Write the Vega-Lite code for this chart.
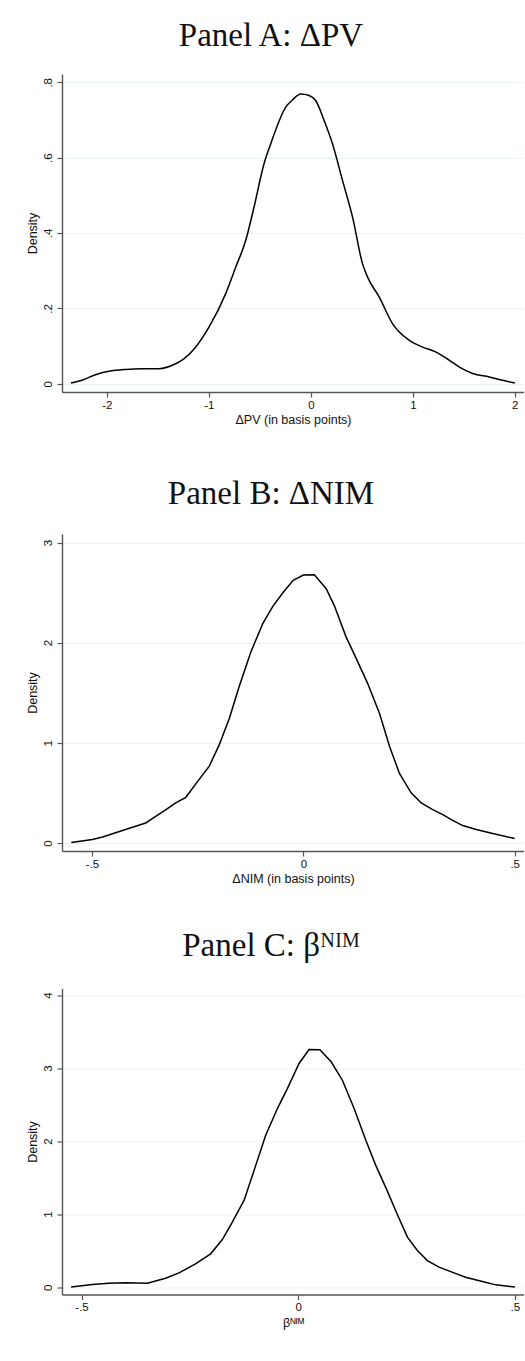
{
  "$schema": "https://vega.github.io/schema/vega-lite/v6.json",
  "background": "white",
  "padding": {"left": 26, "top": 20, "right": 0, "bottom": 5},
  "spacing": 51,
  "config": {
    "view": {"stroke": null},
    "axis": {
      "labelFont": "Liberation Sans",
      "titleFont": "Liberation Sans",
      "labelFontSize": 11.5,
      "titleFontSize": 12.5,
      "titleFontWeight": "normal",
      "labelColor": "#111",
      "titleColor": "#111",
      "domainColor": "#555",
      "domainWidth": 1.4,
      "tickColor": "#555",
      "tickWidth": 1.2,
      "tickSize": 5,
      "gridColor": "#eaf2f3",
      "gridWidth": 1
    },
    "axisX": {"grid": false, "labelPadding": 2, "titlePadding": 3, "labelFlush": false},
    "axisY": {"grid": true, "labelAngle": -90, "labelAlign": "center", "labelBaseline": "bottom", "labelPadding": 4, "titlePadding": 3},
    "title": {"font": "Liberation Serif", "fontSize": 33, "fontWeight": "normal", "color": "#111", "anchor": "middle", "frame": "group", "baseline": "alphabetic", "dx": -22}
  },
  "vconcat": [
    {
      "title": {"text": "Panel A: ΔPV", "offset": 21},
      "width": 462,
      "height": 318,
      "data": {"values": [
        {"x": -2.352, "y": 0.002}, {"x": -2.243, "y": 0.009}, {"x": -2.112, "y": 0.024}, {"x": -1.981, "y": 0.033},
        {"x": -1.817, "y": 0.038}, {"x": -1.654, "y": 0.040}, {"x": -1.49, "y": 0.040}, {"x": -1.326, "y": 0.053},
        {"x": -1.245, "y": 0.066}, {"x": -1.13, "y": 0.097}, {"x": -0.999, "y": 0.150}, {"x": -0.835, "y": 0.239},
        {"x": -0.737, "y": 0.309}, {"x": -0.639, "y": 0.380}, {"x": -0.557, "y": 0.469}, {"x": -0.459, "y": 0.584},
        {"x": -0.393, "y": 0.637}, {"x": -0.246, "y": 0.734}, {"x": -0.181, "y": 0.753}, {"x": -0.098, "y": 0.769},
        {"x": -0.017, "y": 0.765}, {"x": 0.049, "y": 0.751}, {"x": 0.131, "y": 0.698}, {"x": 0.212, "y": 0.637},
        {"x": 0.311, "y": 0.539}, {"x": 0.409, "y": 0.442}, {"x": 0.507, "y": 0.318}, {"x": 0.556, "y": 0.283},
        {"x": 0.671, "y": 0.230}, {"x": 0.802, "y": 0.159}, {"x": 0.867, "y": 0.137}, {"x": 0.966, "y": 0.115},
        {"x": 1.096, "y": 0.097}, {"x": 1.228, "y": 0.084}, {"x": 1.359, "y": 0.062}, {"x": 1.457, "y": 0.044},
        {"x": 1.587, "y": 0.027}, {"x": 1.751, "y": 0.018}, {"x": 1.882, "y": 0.009}, {"x": 2.0, "y": 0.002}
      ]},
      "mark": {"type": "line", "color": "black", "strokeWidth": 1.5, "interpolate": "monotone"},
      "encoding": {
        "x": {"field": "x", "type": "quantitative", "scale": {"domain": [-2.44, 2.09], "nice": false, "zero": false},
              "axis": {"values": [-2, -1, 0, 1, 2], "title": "ΔPV (in basis points)", "labelExpr": "datum.value + ''"}},
        "y": {"field": "y", "type": "quantitative", "scale": {"domain": [-0.022, 0.822], "nice": false, "zero": false},
              "axis": {"values": [0, 0.2, 0.4, 0.6, 0.8], "title": "Density", "labelExpr": "datum.value == 0 ? '0' : replace(format(datum.value, '.1f'), '0.', '.')"}}
      }
    },
    {
      "spacing": 44.5,
      "vconcat": [
        {
          "title": {"text": "Panel B: ΔNIM", "offset": 23.5},
          "width": 462,
          "height": 317,
          "data": {"values": [
            {"x": -0.549, "y": 0.005}, {"x": -0.499, "y": 0.035}, {"x": -0.475, "y": 0.06}, {"x": -0.428, "y": 0.124},
            {"x": -0.373, "y": 0.2}, {"x": -0.361, "y": 0.234}, {"x": -0.325, "y": 0.333}, {"x": -0.302, "y": 0.4},
            {"x": -0.278, "y": 0.456}, {"x": -0.25, "y": 0.615}, {"x": -0.223, "y": 0.764}, {"x": -0.199, "y": 0.98},
            {"x": -0.175, "y": 1.245}, {"x": -0.152, "y": 1.56}, {"x": -0.124, "y": 1.91}, {"x": -0.096, "y": 2.19},
            {"x": -0.073, "y": 2.357}, {"x": -0.049, "y": 2.496}, {"x": -0.024, "y": 2.622}, {"x": 0.0, "y": 2.675},
            {"x": 0.026, "y": 2.678}, {"x": 0.054, "y": 2.539}, {"x": 0.073, "y": 2.373}, {"x": 0.101, "y": 2.058},
            {"x": 0.125, "y": 1.843}, {"x": 0.152, "y": 1.594}, {"x": 0.18, "y": 1.295}, {"x": 0.204, "y": 0.963},
            {"x": 0.227, "y": 0.698}, {"x": 0.255, "y": 0.5}, {"x": 0.279, "y": 0.4}, {"x": 0.306, "y": 0.333},
            {"x": 0.33, "y": 0.284}, {"x": 0.35, "y": 0.234}, {"x": 0.377, "y": 0.174}, {"x": 0.409, "y": 0.134},
            {"x": 0.448, "y": 0.095}, {"x": 0.5, "y": 0.045}
          ]},
          "mark": {"type": "line", "color": "black", "strokeWidth": 1.5},
          "encoding": {
            "x": {"field": "x", "type": "quantitative", "scale": {"domain": [-0.571, 0.522], "nice": false, "zero": false},
                  "axis": {"values": [-0.5, 0, 0.5], "title": "ΔNIM (in basis points)", "labelExpr": "datum.value == 0 ? '0' : (datum.value < 0 ? '-.5' : '.5')"}},
            "y": {"field": "y", "type": "quantitative", "scale": {"domain": [-0.08, 3.085], "nice": false, "zero": false},
                  "axis": {"values": [0, 1, 2, 3], "title": "Density", "format": "d"}}
          }
        },
        {
          "title": {"text": "Panel C: βᴺᴵᴹ", "offset": 26},
          "width": 462,
          "height": 306,
          "data": {"values": [
            {"x": -0.524, "y": 0.003}, {"x": -0.475, "y": 0.036}, {"x": -0.437, "y": 0.055}, {"x": -0.398, "y": 0.06},
            {"x": -0.348, "y": 0.055}, {"x": -0.306, "y": 0.123}, {"x": -0.275, "y": 0.196}, {"x": -0.237, "y": 0.32},
            {"x": -0.202, "y": 0.457}, {"x": -0.175, "y": 0.653}, {"x": -0.152, "y": 0.891}, {"x": -0.125, "y": 1.188},
            {"x": -0.098, "y": 1.668}, {"x": -0.075, "y": 2.08}, {"x": -0.048, "y": 2.446}, {"x": -0.025, "y": 2.72},
            {"x": 0.002, "y": 3.063}, {"x": 0.025, "y": 3.255}, {"x": 0.05, "y": 3.25}, {"x": 0.076, "y": 3.086},
            {"x": 0.102, "y": 2.834}, {"x": 0.129, "y": 2.446}, {"x": 0.156, "y": 2.011}, {"x": 0.179, "y": 1.668},
            {"x": 0.205, "y": 1.325}, {"x": 0.228, "y": 1.005}, {"x": 0.252, "y": 0.686}, {"x": 0.275, "y": 0.503},
            {"x": 0.298, "y": 0.365}, {"x": 0.325, "y": 0.274}, {"x": 0.355, "y": 0.206}, {"x": 0.386, "y": 0.137},
            {"x": 0.425, "y": 0.077}, {"x": 0.456, "y": 0.032}, {"x": 0.5, "y": 0.003}
          ]},
          "mark": {"type": "line", "color": "black", "strokeWidth": 1.5},
          "encoding": {
            "x": {"field": "x", "type": "quantitative", "scale": {"domain": [-0.545, 0.521], "nice": false, "zero": false},
                  "axis": {"values": [-0.5, 0, 0.5], "title": "βᴺᴵᴹ", "labelExpr": "datum.value == 0 ? '0' : (datum.value < 0 ? '-.5' : '.5')"}},
            "y": {"field": "y", "type": "quantitative", "scale": {"domain": [-0.1, 4.09], "nice": false, "zero": false},
                  "axis": {"values": [0, 1, 2, 3, 4], "title": "Density", "format": "d"}}
          }
        }
      ]
    }
  ]
}
